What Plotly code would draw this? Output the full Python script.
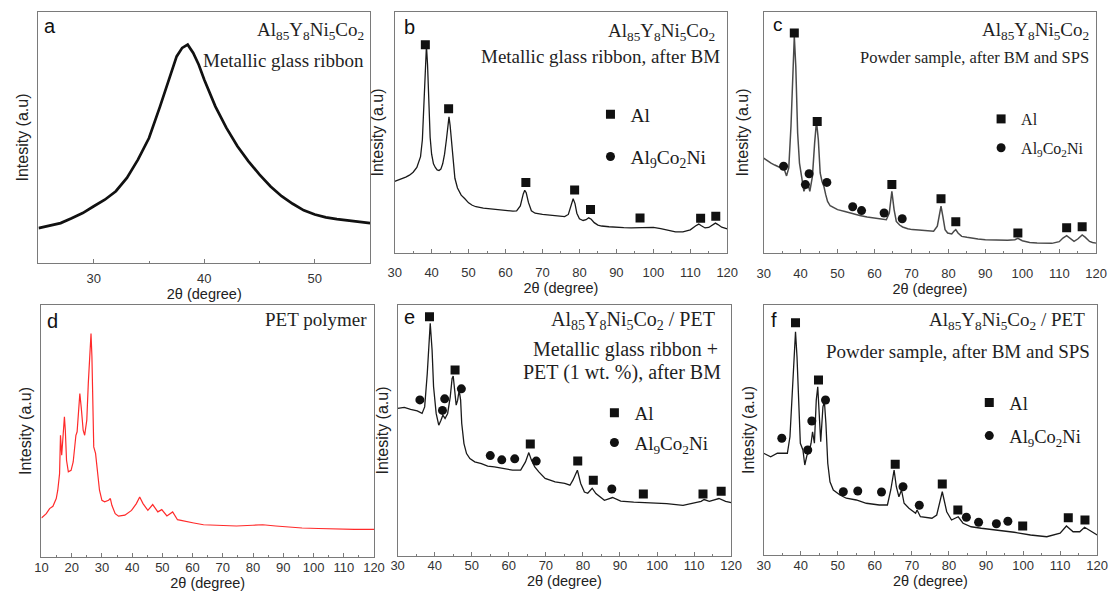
import plotly.graph_objects as go

W, H = 1120, 592

# ---------------- data (2theta in degrees, intensity in normalized a.u. 0-100) ----------------
a_x = [25, 26, 27, 28, 29, 30, 31, 32, 33, 34, 35, 36, 37, 37.5, 38, 38.5, 39, 39.5, 40, 41, 42,
       43, 44, 45, 46, 47, 48, 49, 50, 51, 52, 53, 54, 55]
a_y = [13.9, 14.9, 15.9, 17.8, 19.9, 22.6, 25.2, 28.6, 33.9, 41.2, 49.8, 62.4, 75.7, 82.3, 85.7,
       87.0, 83.7, 79.0, 73.0, 62.4, 53.8, 46.5, 40.5, 35.2, 30.5, 26.6, 23.6, 21.0, 19.3, 18.2,
       17.5, 17.0, 16.6, 15.9]

b_x = [30, 31, 32, 33, 34, 35, 36, 37, 37.5, 38, 38.3, 38.6, 38.9, 39.2, 39.6, 40, 40.5, 41, 41.5,
       42, 42.5, 43, 43.5, 44, 44.4, 44.7, 45, 45.4, 45.8, 46.3, 47, 48, 49, 50, 51, 52, 54, 56, 58,
       60, 62, 63, 64, 64.8, 65.2, 65.6, 66.2, 67, 68, 70, 72, 74, 75, 76, 77, 77.7, 78.3, 78.8,
       79.3, 80, 81, 81.8, 82.5, 83.2, 84, 85, 86, 88, 90, 92, 94, 96, 98, 100, 102, 104, 106, 108,
       110, 111.5, 112.3, 113, 114, 115, 116, 116.8, 117.5, 118.5, 120]
b_y = [29.7, 30.2, 30.8, 31.5, 32.3, 33.5, 35.5, 40, 47, 62, 75, 86, 78, 62, 48, 41, 37, 35.5, 34.5,
       34.2, 34.8, 37, 41, 47, 54, 56.5, 53, 45, 37, 31, 27, 24, 22.5, 20.8, 19.8, 19.2, 18.6, 18.3,
       18.0, 17.6, 17.4, 17.5, 19.5, 24.5, 26.0, 25, 21, 17.5, 16.5, 16.0, 15.6, 15.3, 15.0, 15.1,
       16, 19.5, 22.5, 20.5, 16.5, 14.2, 13.5, 13.8, 14.6, 14.0, 12.6, 11.6, 11.2, 10.9, 10.6, 10.5,
       10.4, 10.5, 10.6, 10.6, 10.1, 9.4, 8.8, 8.8, 9.6, 11.3, 12.0, 11.3, 10.4, 10.6, 11.6, 12.4,
       11.8, 10.7, 10.0]

c_x = [30, 31, 32, 33, 34, 35, 35.6, 36.2, 36.8, 37.4, 37.9, 38.3, 38.7, 39.2, 39.7, 40.2, 40.9,
       41.4, 41.8, 42.5, 43.2, 43.8, 44.3, 44.8, 45.3, 45.8, 46.3, 46.8, 47.3, 48, 49, 50, 52, 54,
       56, 58, 60, 62, 63.2, 64, 64.7, 65.3, 65.9, 66.8, 67.6, 69, 70.2, 72, 74, 76, 77, 77.5, 78,
       78.5, 79.1, 79.8, 80.9, 81.5, 82, 82.6, 83.6, 85, 86.2, 88, 90, 93, 96, 98, 98.8, 100, 102,
       104, 106, 108, 110, 111, 112, 113, 114, 115, 116.2, 117, 118.2, 119, 120]
c_y = [39.4, 38.3, 37.3, 36.5, 35.7, 35.1, 34.6, 32.0, 35.3, 52.6, 77.5, 89.9, 77.5, 49.8, 37.3,
       31.8, 25.6, 27.7, 29.7, 25.6, 31.8, 45.6, 54.6, 47.0, 33.2, 29.7, 27.7, 24.2, 21.4, 19.6,
       18.7, 18.0, 17.2, 16.3, 15.6, 14.9, 14.4, 13.8, 13.8, 16.6, 25.6, 18.0, 13.1, 11.6, 10.8,
       10.1, 9.7, 9.5, 9.4, 9.0, 11.1, 15.2, 19.4, 15.2, 9.7, 8.3, 7.9, 9.0, 9.7, 8.3, 6.9, 6.5,
       6.1, 5.8, 5.5, 5.3, 5.3, 5.5, 6.1, 5.1, 4.4, 4.1, 4.0, 4.0, 4.7, 6.2, 7.2, 5.8, 4.8, 5.8,
       7.5, 6.6, 4.8, 4.4, 4.1]

d_x = [10, 11.6, 12.7, 13.8, 14.9, 15.4, 16.0, 16.3, 16.7, 17.2, 17.6, 17.9, 18.3, 18.9, 19.8,
       20.5, 21.4, 21.8, 22.2, 22.7, 23.2, 23.8, 24.3, 25.0, 25.5, 26.0, 26.4, 26.7, 27.0, 27.3,
       27.9, 28.4, 29.2, 30.0, 30.9, 32.2, 32.8, 33.3, 34.4, 35.5, 37.6, 39.8, 41.4, 42.5, 43.6,
       45.2, 46.8, 48.5, 49.8, 51.5, 53.4, 55.0, 57.1, 60.4, 63.6, 68.0, 74.5, 79.9, 83.2, 87.5,
       91.8, 96.2, 101.6, 107.0, 113.5, 120]
d_y = [15.5, 17.2, 19.2, 20.1, 23.2, 26.5, 33.1, 48.3, 40.4, 50.3, 55.6, 50.3, 38.4, 33.8, 34.4,
       37.7, 48.3, 49.7, 58.3, 64.9, 58.9, 50.3, 48.3, 54.3, 68.9, 82.8, 88.7, 79.5, 64.9, 43.7,
       41.1, 35.1, 26.5, 22.5, 21.9, 22.5, 23.2, 20.5, 17.2, 16.2, 16.6, 18.5, 21.2, 23.8, 21.2,
       18.5, 20.8, 17.9, 18.8, 16.3, 17.9, 14.8, 14.2, 13.5, 12.8, 12.6, 12.3, 12.6, 12.8, 12.3,
       11.9, 11.5, 11.3, 11.1, 11.0, 11.0]

e_x = [30, 31.8, 33.5, 35.3, 36.6, 37.3, 38.0, 38.5, 38.8, 39.3, 39.7, 40.4, 41.1, 41.7, 42.2,
       42.8, 43.5, 44.2, 44.7, 45.0, 45.3, 45.8, 46.2, 46.6, 47.0, 47.3, 47.9, 48.6, 49.5, 50.8,
       52.6, 54.3, 56.1, 58.3, 61.0, 63.2, 64.5, 65.4, 66.1, 67.0, 68.1, 69.8, 72.5, 75.1, 76.5,
       77.3, 78.5, 79.4, 80.4, 81.3, 82.5, 83.5, 85.8, 88.0, 90.2, 93.7, 98.1, 102.6, 107.0, 109.6,
       111.9, 112.7, 114.1, 116.7, 118.5, 120]
e_y = [58.8, 59.2, 58.4, 57.8, 56.8, 59.4, 72.7, 87.4, 92.7, 82.0, 67.4, 56.8, 52.1, 54.1, 56.1,
       54.8, 56.8, 63.4, 70.7, 71.7, 66.1, 60.1, 62.1, 66.1, 62.1, 52.8, 44.8, 40.8, 38.8, 37.5,
       36.8, 35.8, 35.5, 34.8, 34.2, 34.2, 37.5, 41.2, 38.2, 35.5, 33.5, 30.9, 29.5, 28.9, 28.2,
       30.2, 34.2, 28.9, 25.5, 25.0, 27.0, 24.9, 22.2, 23.3, 21.9, 21.5, 21.3, 20.9, 20.2, 20.9,
       21.8, 22.5, 21.8, 22.9, 21.8, 21.3]

f_x = [30, 31.9, 33.7, 35.5, 36.4, 37.1, 37.7, 38.2, 38.6, 39.0, 39.5, 39.9, 40.6, 41.1, 41.7,
       42.2, 42.8, 43.2, 43.7, 44.2, 44.6, 45.1, 45.4, 46.0, 46.4, 46.8, 47.3, 47.9, 48.8, 50.6,
       52.3, 55.0, 57.7, 61.2, 63.4, 64.3, 65.2, 65.8, 66.5, 67.2, 67.9, 69.2, 71.0, 71.4, 72.3,
       75.4, 76.7, 78.2, 79.4, 80.7, 82.5, 83.8, 86.0, 88.7, 93.1, 97.6, 102.0, 106.4, 110.0,
       111.7, 113.5, 115.3, 116.6, 118.4, 120]
f_y = [40.7, 39.3, 40.7, 40.9, 40.7, 47.3, 66.0, 82.0, 89.3, 79.3, 56.7, 44.7, 42.0, 36.0, 40.0,
       40.7, 44.7, 49.3, 44.7, 62.0, 67.3, 52.7, 45.3, 59.3, 61.3, 52.7, 36.7, 29.3, 26.0, 24.0,
       22.7, 22.0, 20.7, 20.0, 20.0, 26.0, 34.0, 27.3, 23.3, 26.0, 20.7, 18.7, 16.7, 18.0, 15.3,
       14.7, 16.0, 25.3, 17.3, 14.0, 15.3, 12.7, 11.3, 10.7, 10.0, 9.1, 8.0, 7.3, 8.7, 11.6, 9.3,
       9.3, 11.1, 9.3, 8.0]

# phase markers (peak positions and label heights)
b_al_x = [38.3, 44.6, 65.5, 78.7, 83.0, 96.4, 112.8, 116.9]
b_al_y = [86.4, 59.9, 29.3, 26.1, 18.0, 14.5, 14.4, 15.2]
b_co_x = [None]
b_co_y = [None]

c_al_x = [38.3, 44.5, 64.7, 78.0, 82.0, 98.8, 112.0, 116.2]
c_al_y = [91.3, 54.6, 28.4, 22.5, 13.0, 8.3, 10.5, 10.9]
c_co_x = [35.4, 41.3, 42.3, 47.1, 54.1, 56.5, 62.6, 67.5]
c_co_y = [36.0, 28.4, 32.9, 29.3, 19.2, 17.6, 16.6, 14.2]

e_al_x = [38.6, 45.5, 65.8, 78.6, 82.8, 96.3, 112.4, 117.3]
e_al_y = [95.3, 74.1, 44.6, 37.8, 30.2, 24.7, 24.7, 25.8]
e_co_x = [36.0, 42.1, 42.7, 47.2, 55.0, 58.1, 61.6, 67.4, 87.8]
e_co_y = [62.2, 58.0, 62.6, 66.6, 40.0, 38.3, 38.7, 37.8, 26.7]

f_al_x = [38.6, 44.8, 65.5, 78.2, 82.4, 99.9, 112.2, 116.7]
f_al_y = [92.9, 70.0, 36.3, 28.4, 18.0, 11.6, 14.9, 14.0]
f_co_x = [34.9, 41.9, 43.0, 46.7, 51.5, 55.4, 61.8, 67.6, 72.0, 84.7, 88.0, 92.8, 95.9]
f_co_y = [46.7, 42.0, 53.6, 62.0, 25.3, 25.6, 25.2, 27.3, 19.9, 15.1, 13.1, 12.5, 13.5]

ALLOY = "Al<sub>85</sub>Y<sub>8</sub>Ni<sub>5</sub>Co<sub>2</sub>"
AL9 = "Al<sub>9</sub>Co<sub>2</sub>Ni"
XTITLE = "2θ (degree)"
YTITLE = "Intesity (a.u)"

# ---------------- layout helpers ----------------
def px(xp):
    return xp / W


def py(yp):
    return 1 - yp / H


SANS = "Liberation Sans"
SERIF = "Liberation Serif"
FRAME = "#7a7a7a"

# panel boxes in pixels: left, top, right, bottom
panels = [
    dict(key="", box=(32, 12, 369, 263), xr=[25, 55], lab_std=3, tit_std=4, y_std=4),
    dict(key="2", box=(394, 12, 732, 253), xr=[30, 120], lab_std=7, tit_std=3, y_std=6),
    dict(key="3", box=(769, 12, 1107, 253), xr=[30, 120], lab_std=8, tit_std=3, y_std=10),
    dict(key="4", box=(35, 305, 373, 557), xr=[10, 120], lab_std=-2, tit_std=3, y_std=4),
    dict(key="5", box=(397, 305, 736, 556), xr=[30, 120], lab_std=-3, tit_std=3, y_std=4),
    dict(key="6", box=(769, 305, 1108, 555), xr=[30, 120], lab_std=-2, tit_std=3, y_std=4),
]

layout = dict(
    width=W, height=H, margin=dict(l=0, r=0, t=0, b=0),
    paper_bgcolor="white", plot_bgcolor="white", showlegend=True,
)

for p in panels:
    l, t, r, b = p["box"]
    k = p["key"]
    layout["xaxis" + k] = dict(
        domain=[px(l), px(r)], range=p["xr"], anchor="y" + k,
        showline=True, mirror=True, linecolor=FRAME, linewidth=1,
        ticks="inside", ticklen=4, tickwidth=1, tickcolor=FRAME,
        tick0=0, dtick=10,
        minor=dict(ticks="inside", ticklen=2, tick0=0, dtick=5, tickcolor=FRAME, showgrid=False),
        showgrid=False, zeroline=False,
        ticklabelstandoff=p["lab_std"],
        tickfont=dict(family=SANS, size=13, color="#333333"),
        title=dict(text=XTITLE, font=dict(family=SANS, size=14.5, color="#222222"),
                   standoff=p["tit_std"]),
    )
    layout["yaxis" + k] = dict(
        domain=[py(b), py(t)], range=[0, 100], anchor="x" + k,
        showline=True, mirror=True, linecolor=FRAME, linewidth=1,
        ticks="", showticklabels=False, showgrid=False, zeroline=False,
        title=dict(text=YTITLE, font=dict(family=SANS, size=16, color="#222222"),
                   standoff=p["y_std"]),
    )

fig = go.Figure(layout=layout)

# ---------------- curves ----------------
curves = [
    (a_x, a_y, "", "#111111", 2.7),
    (b_x, b_y, "2", "#1a1a1a", 1.3),
    (c_x, c_y, "3", "#4a4a4a", 1.5),
    (d_x, d_y, "4", "#ff2a2a", 1.2),
    (e_x, e_y, "5", "#1a1a1a", 1.3),
    (f_x, f_y, "6", "#1a1a1a", 1.3),
]
for xs, ys, k, col, w in curves:
    fig.add_trace(go.Scatter(x=xs, y=ys, mode="lines", xaxis="x" + k, yaxis="y" + k,
                             line=dict(color=col, width=w), showlegend=False,
                             hoverinfo="skip"))

# ---------------- phase markers + legends ----------------
marker_sets = [
    ("2", "legend", b_al_x, b_al_y, b_co_x, b_co_y),
    ("3", "legend2", c_al_x, c_al_y, c_co_x, c_co_y),
    ("5", "legend3", e_al_x, e_al_y, e_co_x, e_co_y),
    ("6", "legend4", f_al_x, f_al_y, f_co_x, f_co_y),
]
for k, lg, ax_, ay_, cx_, cy_ in marker_sets:
    fig.add_trace(go.Scatter(x=ax_, y=ay_, mode="markers", xaxis="x" + k, yaxis="y" + k,
                             marker=dict(symbol="square", size=9, color="#111111"),
                             name="Al", legend=lg, legendgroup=lg + "al", showlegend=True))
    fig.add_trace(go.Scatter(x=cx_, y=cy_, mode="markers", xaxis="x" + k, yaxis="y" + k,
                             marker=dict(symbol="circle", size=9, color="#111111"),
                             name=AL9, legend=lg, legendgroup=lg + "co", showlegend=True))

legend_specs = [
    ("legend", 593, 95, 19.5, 14),
    ("legend2", 990, 102, 16, 5),
    ("legend3", 597, 394, 19, 2),
    ("legend4", 978, 384, 18.5, 6),
]
for name, lx, ly, fs, gap in legend_specs:
    fig.update_layout({name: dict(x=px(lx), y=py(ly), xanchor="left", yanchor="top",
                                  bgcolor="rgba(0,0,0,0)", borderwidth=0,
                                  font=dict(family=SERIF, size=fs, color="#1a1a1a"),
                                  tracegroupgap=gap, itemclick=False, itemdoubleclick=False)})

# ---------------- panel text ----------------
def txt(s, xr, ybase, fs, family=SERIF, anchor="right", color="#1f1f1f"):
    fig.add_annotation(text=s, x=px(xr), y=py(ybase - 0.32 * fs), xref="paper", yref="paper",
                       xanchor=anchor, yanchor="middle", showarrow=False,
                       font=dict(family=family, size=fs, color=color))

# sample descriptions (right-aligned)
txt(ALLOY, 365, 37, 19)
txt("Metallic glass ribbon", 365, 67, 19)
txt(ALLOY, 722, 38, 19)
txt("Metallic glass ribbon, after BM", 727, 63, 19)
txt(ALLOY, 1102, 37, 19)
txt("Powder sample, after BM and SPS", 1102, 63, 16.5)
txt("PET polymer", 368, 326, 19)
txt(ALLOY + " / PET", 722, 327, 20)
txt("Metallic glass ribbon +", 725, 356, 20)
txt("PET (1 wt. %), after BM", 728, 379, 20)
txt(ALLOY + " / PET", 1098, 327, 19)
txt("Powder sample, after BM and SPS", 1103, 358, 19)

# panel letters
for letter, lx, lb, fs in [("a", 36, 32, 20), ("b", 401, 33, 20), ("c", 776, 31, 19),
                           ("d", 39, 327, 20), ("e", 401, 323, 20), ("f", 774, 326, 20)]:
    txt(letter, lx, lb, fs, family=SANS, anchor="left", color="#111111")

fig.write_html("out.html", config={"displayModeBar": False},
               post_script="document.body.style.margin='0';document.body.style.overflow='hidden';")
